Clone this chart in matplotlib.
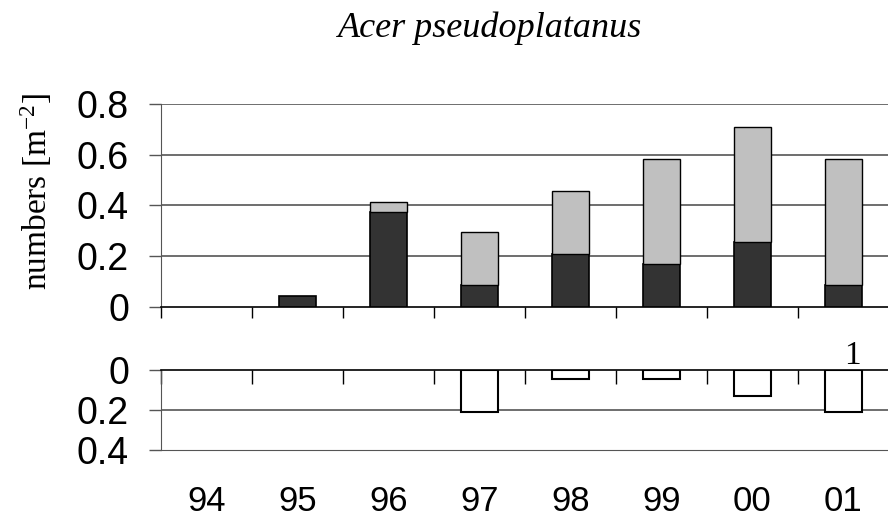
import numpy as np
import matplotlib.pyplot as plt

plt.rcParams['mathtext.fontset'] = 'custom'
plt.rcParams['mathtext.rm'] = 'Liberation Serif'
plt.rcParams['mathtext.it'] = 'Liberation Serif:italic'

# data
years = ['94', '95', '96', '97', '98', '99', '00', '01']
dark = [0.0, 0.043, 0.374, 0.086, 0.21, 0.17, 0.254, 0.086]
light = [0.0, 0.0, 0.039, 0.209, 0.247, 0.412, 0.454, 0.496]
neg = [0.0, 0.0, 0.0, 0.207, 0.045, 0.045, 0.127, 0.207]
note_year = '01'
note_text = '1'

x = np.arange(len(years))
bounds = np.arange(len(years) + 1) - 0.5
grid_col = '#555555'

dark_a = np.array(dark)
light_a = np.array(light)
neg_a = np.array(neg)

fig = plt.figure(figsize=(8.88, 5.31), dpi=100)
ax1 = fig.add_axes([0.1813, 0.4224, 0.8198, 0.3817])
ax2 = fig.add_axes([0.1813, 0.152, 0.8198, 0.1507])

# upper panel: stacked bars (skip empty years)
m = dark_a > 0
ax1.bar(x[m], dark_a[m], width=0.4, color='#333333', edgecolor='black', linewidth=1.2, zorder=3)
m = light_a > 0
ax1.bar(x[m], light_a[m], width=0.4, bottom=dark_a[m], color='#c0c0c0', edgecolor='black',
        linewidth=1.0, zorder=3)
ax1.set_xlim(-0.5, 7.5)
ax1.set_ylim(0, 0.8)
ax1.set_yticks([0, 0.2, 0.4, 0.6, 0.8])
ax1.set_yticklabels(['0', '0.2', '0.4', '0.6', '0.8'], family='Liberation Sans', fontsize=27)
ax1.set_xticks(bounds)
ax1.set_xticklabels([])
ax1.tick_params(axis='x', direction='out', length=8, width=1, color='black')
ax1.tick_params(axis='y', direction='out', length=9, width=1, color=grid_col, pad=14)
for v in [0.2, 0.4, 0.6, 0.8]:
    ax1.axhline(v, color=grid_col, linewidth=1.2, zorder=1)
for s in ['top', 'right']:
    ax1.spines[s].set_visible(False)
ax1.spines['left'].set_color(grid_col)
ax1.spines['bottom'].set_linewidth(1.2)
ax1.set_ylabel('numbers [m$^{\\mathrm{-2}}$]', family='Liberation Serif', fontsize=24)
ax1.yaxis.set_label_coords(-0.147, 0.57)

# lower panel: downward bars
m = neg_a > 0
ax2.bar(x[m], neg_a[m], width=0.4, color='white', edgecolor='black', linewidth=1.5, zorder=3)
ax2.set_xlim(-0.5, 7.5)
ax2.set_ylim(0.4, 0)
ax2.set_yticks([0, 0.2, 0.4])
ax2.set_yticklabels(['0', '0.2', '0.4'], family='Liberation Sans', fontsize=27)
ax2.tick_params(axis='y', direction='out', length=9, width=1, color=grid_col, pad=14)
ax2.set_xticks(bounds)
ax2.set_xticks(x, minor=True)
ax2.set_xticklabels([])
ax2.set_xticklabels(years, minor=True, family='Liberation Sans', fontsize=25)
ax2.tick_params(axis='x', which='major', bottom=False, top=True, direction='in',
                length=10, width=1, labelbottom=False, labeltop=False)
ax2.tick_params(axis='x', which='minor', bottom=True, top=False, length=0, pad=25)
ax2.axhline(0.2, color=grid_col, linewidth=1.2, zorder=1)
ax2.spines['right'].set_visible(False)
ax2.spines['bottom'].set_color(grid_col)
ax2.spines['left'].set_color(grid_col)
ax2.spines['top'].set_linewidth(1.2)

i = years.index(note_year)
ax2.text(x[i] + 0.1, 0.005, note_text, family='Liberation Serif', fontsize=24,
         ha='center', va='bottom')

fig.text(0.552, 0.947, 'Acer pseudoplatanus', family='Liberation Serif', style='italic',
         fontsize=26, ha='center', va='center')

fig.savefig('out.png', dpi=100)
